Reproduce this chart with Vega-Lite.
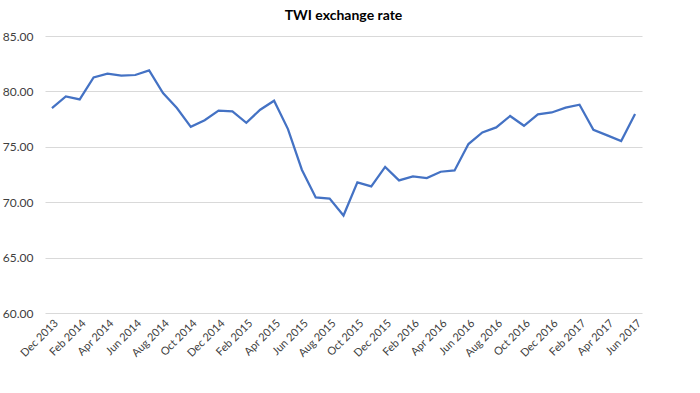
{
  "$schema": "https://vega.github.io/schema/vega-lite/v6.json",
  "autosize": "none",
  "width": 597,
  "height": 277,
  "padding": {"left": 45, "top": 36, "right": 58, "bottom": 80},
  "background": "white",
  "title": {"text": "TWI exchange rate", "font": "Lato", "fontSize": 14, "fontWeight": "bold", "color": "#000000", "anchor": "middle", "offset": 7},
  "config": {"view": {"stroke": null}},
  "data": {"values": [
    {"month": "Dec 2013", "twi": 78.50},
    {"month": "Jan 2014", "twi": 79.55},
    {"month": "Feb 2014", "twi": 79.28},
    {"month": "Mar 2014", "twi": 81.26},
    {"month": "Apr 2014", "twi": 81.60},
    {"month": "May 2014", "twi": 81.42},
    {"month": "Jun 2014", "twi": 81.48},
    {"month": "Jul 2014", "twi": 81.90},
    {"month": "Aug 2014", "twi": 79.85},
    {"month": "Sep 2014", "twi": 78.50},
    {"month": "Oct 2014", "twi": 76.80},
    {"month": "Nov 2014", "twi": 77.40},
    {"month": "Dec 2014", "twi": 78.26},
    {"month": "Jan 2015", "twi": 78.20},
    {"month": "Feb 2015", "twi": 77.17},
    {"month": "Mar 2015", "twi": 78.35},
    {"month": "Apr 2015", "twi": 79.16},
    {"month": "May 2015", "twi": 76.60},
    {"month": "Jun 2015", "twi": 72.93},
    {"month": "Jul 2015", "twi": 70.43},
    {"month": "Aug 2015", "twi": 70.32},
    {"month": "Sep 2015", "twi": 68.80},
    {"month": "Oct 2015", "twi": 71.79},
    {"month": "Nov 2015", "twi": 71.43},
    {"month": "Dec 2015", "twi": 73.18},
    {"month": "Jan 2016", "twi": 71.97},
    {"month": "Feb 2016", "twi": 72.33},
    {"month": "Mar 2016", "twi": 72.18},
    {"month": "Apr 2016", "twi": 72.75},
    {"month": "May 2016", "twi": 72.87},
    {"month": "Jun 2016", "twi": 75.25},
    {"month": "Jul 2016", "twi": 76.30},
    {"month": "Aug 2016", "twi": 76.75},
    {"month": "Sep 2016", "twi": 77.78},
    {"month": "Oct 2016", "twi": 76.90},
    {"month": "Nov 2016", "twi": 77.93},
    {"month": "Dec 2016", "twi": 78.10},
    {"month": "Jan 2017", "twi": 78.53},
    {"month": "Feb 2017", "twi": 78.80},
    {"month": "Mar 2017", "twi": 76.54},
    {"month": "Apr 2017", "twi": 76.03},
    {"month": "May 2017", "twi": 75.52},
    {"month": "Jun 2017", "twi": 77.96}
  ]},
  "mark": {"type": "line", "color": "#4472C4", "strokeWidth": 2.25},
  "encoding": {
    "x": {
      "field": "month", "type": "ordinal", "sort": null,
      "scale": {"type": "point", "padding": 0.5},
      "axis": {
        "title": null,
        "values": ["Dec 2013","Feb 2014","Apr 2014","Jun 2014","Aug 2014","Oct 2014","Dec 2014","Feb 2015","Apr 2015","Jun 2015","Aug 2015","Oct 2015","Dec 2015","Feb 2016","Apr 2016","Jun 2016","Aug 2016","Oct 2016","Dec 2016","Feb 2017","Apr 2017","Jun 2017"],
        "labelAngle": -45, "labelAlign": "right", "labelBaseline": "top",
        "labelFont": "Lato", "labelFontSize": 11, "labelColor": "#404040",
        "labelPadding": 4,
        "domain": false, "ticks": false, "grid": false, "labelOverlap": false
      }
    },
    "y": {
      "field": "twi", "type": "quantitative",
      "scale": {"domain": [60, 85], "nice": false, "zero": false},
      "axis": {
        "title": null, "values": [60, 65, 70, 75, 80, 85], "format": ".2f",
        "labelFont": "Lato", "labelFontSize": 12, "labelColor": "#404040",
        "labelPadding": 12,
        "domain": false, "ticks": false,
        "grid": true, "gridColor": "#D9D9D9", "gridWidth": 1
      }
    }
  }
}
